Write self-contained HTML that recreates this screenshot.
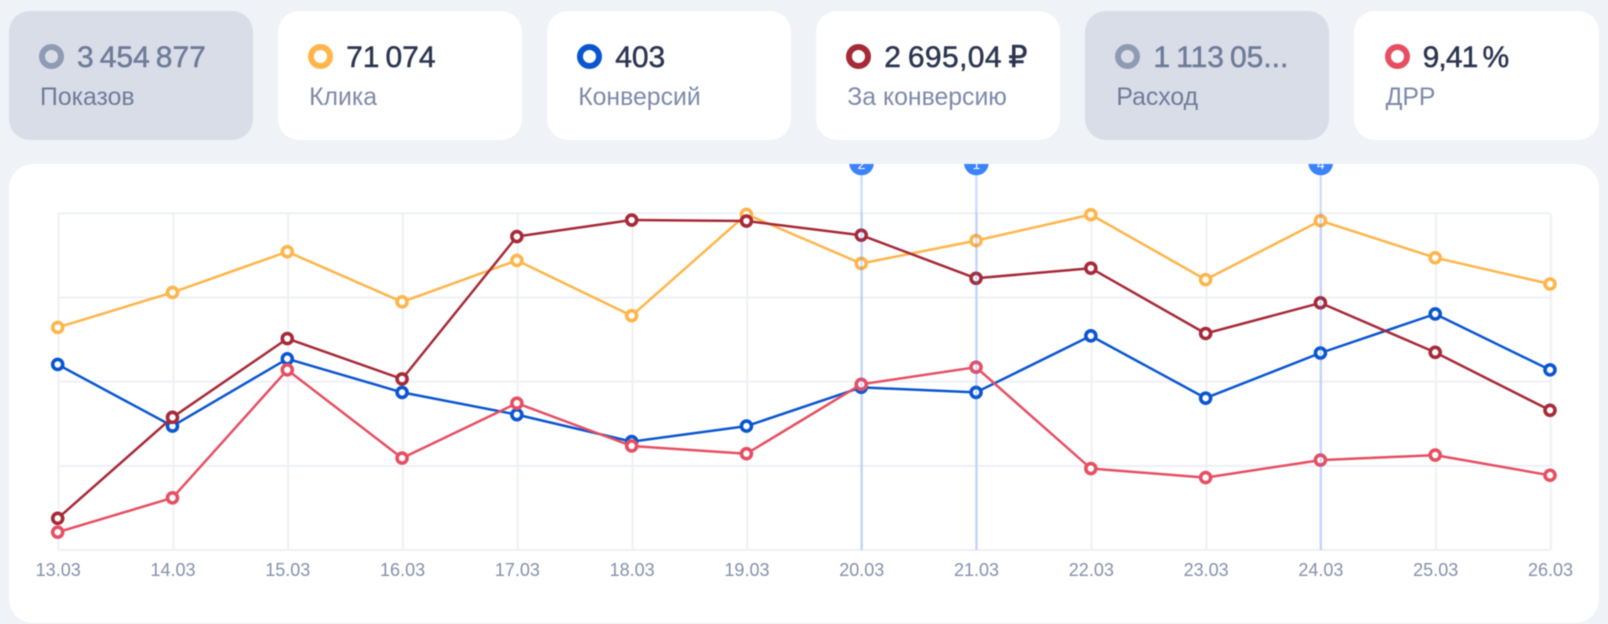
<!DOCTYPE html>
<html lang="ru">
<head>
<meta charset="utf-8">
<title>Статистика кампании</title>
<style>
html,body{margin:0;padding:0;width:1608px;height:624px;overflow:hidden;background:#eff2f7}
body{font-family:"Liberation Sans","DejaVu Sans",sans-serif}
#root{position:relative;width:1608px;height:624px;filter:blur(.5px)}
.card{position:absolute;top:11px;width:244.5px;height:128.5px;background:#fff;border-radius:21px;cursor:pointer}
.card.off{background:#d9dde8}
.dot{position:absolute;left:30.5px;top:33px;width:25px;height:25px;box-sizing:border-box;border-radius:50%;border:6.2px solid #8f9bb3;background:transparent}
.val{position:absolute;left:68.5px;top:29px;font-size:30px;line-height:36px;color:#2c3650;word-spacing:-2.3px;white-space:nowrap;-webkit-text-stroke:.5px currentColor}
.lab{position:absolute;left:31.5px;top:71.5px;font-size:24.8px;line-height:30px;color:#7d8aa8;white-space:nowrap}
.off .val{color:#6e7c99}
.off .lab{color:#6e7c99}
#chart-card{position:absolute;left:8.5px;top:164px;width:1590.2px;height:458.5px;background:#fff;border-radius:24px;overflow:hidden}
#chart{position:absolute;left:-8.5px;top:-164px;display:block}
</style>
</head>
<body>
<div id="root">
  <div class="card off" style="left:8.5px">
    <div class="dot" style="border-color:#8f9bb3"></div>
    <div class="val">3 454 877</div>
    <div class="lab">Показов</div>
  </div>
  <div class="card" style="left:277.6px">
    <div class="dot" style="border-color:#ffb54a"></div>
    <div class="val">71 074</div>
    <div class="lab">Клика</div>
  </div>
  <div class="card" style="left:546.7px">
    <div class="dot" style="border-color:#0a56d0"></div>
    <div class="val">403</div>
    <div class="lab">Конверсий</div>
  </div>
  <div class="card" style="left:815.8px">
    <div class="dot" style="border-color:#a62a38"></div>
    <div class="val" style="letter-spacing:.4px">2 695,04 ₽</div>
    <div class="lab">За конверсию</div>
  </div>
  <div class="card off" style="left:1084.9px">
    <div class="dot" style="border-color:#8f9bb3"></div>
    <div class="val">1 113 05...</div>
    <div class="lab">Расход</div>
  </div>
  <div class="card" style="left:1354.1px">
    <div class="dot" style="border-color:#e64f62"></div>
    <div class="val" style="letter-spacing:-.9px">9,41 %</div>
    <div class="lab">ДРР</div>
  </div>
  <div id="chart-card">
    <svg id="chart" width="1608" height="624" viewBox="0 0 1608 624" xmlns="http://www.w3.org/2000/svg"></svg>
  </div>
</div>
<script>
const categories = ['13.03','14.03','15.03','16.03','17.03','18.03','19.03','20.03','21.03','22.03','23.03','24.03','25.03','26.03'];
const clicksValues = [66.1,76.5,88.6,73.7,86.0,69.6,99.7,85.1,91.9,99.6,80.3,97.8,86.8,79.0];
const conversionsValues = [55.1,36.8,56.8,46.8,40.2,32.2,36.8,48.3,46.8,63.6,45.1,58.5,70.1,53.5];
const costValues = [9.4,39.4,62.8,50.8,93.1,98.0,97.7,93.5,80.7,83.7,64.3,73.4,58.7,41.5];
const drrValues = [5.3,15.5,53.5,27.3,43.6,30.9,28.6,49.2,54.3,24.2,21.5,26.7,28.2,22.2];
const gridValues = [0,25,50,75,100];
const pinDates = ['20.03','21.03','24.03'];
const pinLabels = ['2','1','4'];

const NS = 'http://www.w3.org/2000/svg';
const svg = document.getElementById('chart');
const left = 57.7, right = 1550, top_ = 213.3, bottom = 550, gridShift = 0.8;
function xPos(i){ return left + (right - left) * i / (categories.length - 1); }
function yPos(v){ return bottom - (bottom - top_) * v / 100; }
function make(tag, attrs, parent){
  const el = document.createElementNS(NS, tag);
  for (const k in attrs) el.setAttribute(k, attrs[k]);
  (parent || svg).appendChild(el);
  return el;
}

const grid = make('g', {});


gridValues.forEach(function(v){
  const l = make('line', {x1:left+gridShift, x2:right, y1:yPos(v), y2:yPos(v), stroke:'#eef0f5', 'stroke-width':2}, grid);
  
  
});
categories.forEach(function(c, i){
  const l = make('line', {x1:xPos(i)+gridShift, x2:xPos(i)+gridShift, y1:top_, y2:bottom, stroke:'#eef0f5', 'stroke-width':2}, grid);
  
  
  const t = make('text', {x:xPos(i)+0.5, y:576, 'text-anchor':'middle', 'font-size':18, fill:'#8490ab', 'font-family':'"Liberation Sans", sans-serif'});
  t.textContent = c;
  
  
});

function drawSeries(values, color, name){
  const g = make('g', {});
  
  
  const pts = values.map(function(v, i){ return xPos(i).toFixed(1) + ',' + yPos(v).toFixed(1); }).join(' ');
  const line = make('polyline', {points:pts, fill:'none', stroke:color, 'stroke-width':2.5, 'stroke-linejoin':'round'}, g);
  
  
  values.forEach(function(v, i){
    const p = make('circle', {cx:xPos(i), cy:yPos(v), r:5, fill:'#fff', stroke:color, 'stroke-width':3.6}, g);
    
    
  });
}
drawSeries(clicksValues, '#ffb54a', 'clicks-series');
drawSeries(conversionsValues, '#0a56d0', 'conversions-series');
drawSeries(costValues, '#a62a38', 'cost-per-conversion-series');
drawSeries(drrValues, '#e64f62', 'drr-series');

pinDates.forEach(function(d, n){
  const i = categories.indexOf(d);
  const x = xPos(i) + 0.3;
  const l = make('line', {x1:x, x2:x, y1:170, y2:bottom, stroke:'#3b7cff', 'stroke-opacity':0.27, 'stroke-width':2.2});
  
  
  const c = make('circle', {cx:x, cy:163, r:12.3, fill:'#3b82fb'});
  
  
  const t = make('text', {x:x, y:169, 'text-anchor':'middle', 'font-size':14, fill:'#fff', 'font-family':'"Liberation Sans", sans-serif'});
  t.textContent = pinLabels[n];
  
  
});
</script>
</body>
</html>
